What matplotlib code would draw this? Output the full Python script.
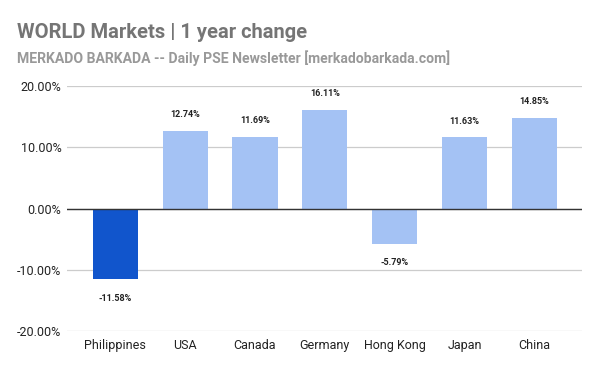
import numpy as np
import matplotlib.pyplot as plt
from matplotlib.ticker import FuncFormatter

plt.rcParams['font.family'] = ['Roboto', 'DejaVu Sans']

countries = ['Philippines', 'USA', 'Canada', 'Germany', 'Hong Kong', 'Japan', 'China']
change = [-11.58, 12.74, 11.69, 16.11, -5.79, 11.63, 14.85]
colors = ['#1155cc', '#a4c2f4', '#a4c2f4', '#a4c2f4', '#a4c2f4', '#a4c2f4', '#a4c2f4']

fig = plt.figure(figsize=(6, 3.71), dpi=100)
ax = fig.add_axes([0.1117, 0.108, 0.8583, 0.66])

x = np.arange(len(countries))
ax.bar(x, change, width=0.645, color=colors, zorder=3)

for xi, v in zip(x, change):
    off = 11.5 if v >= 0 else -13.5
    ax.annotate('%.2f%%' % v, (xi, v), xytext=(0, off), textcoords='offset points',
                ha='center', va='center', fontsize=6.5, fontweight='bold', color='#222222')

ax.set_ylim(-20, 20)
ax.set_xlim(-0.69, 6.68)
ax.set_yticks([-20, -10, 0, 10, 20])
ax.yaxis.set_major_formatter(FuncFormatter(lambda v, p: '%.2f%%' % v))
ax.set_xticks(x)
ax.set_xticklabels(countries)
ax.grid(axis='y', color='#cccccc', linewidth=0.9, zorder=0)
ax.axhline(0, color='#333333', linewidth=1.0, zorder=4)
for s in ax.spines.values():
    s.set_visible(False)
ax.tick_params(axis='both', length=0, labelsize=9, colors='#222222')
ax.tick_params(axis='y', pad=4)
ax.tick_params(axis='x', pad=6)

fig.text(17 / 600, 1 - 38 / 371, 'WORLD Markets | 1 year change', fontsize=14.5,
         fontweight='bold', color='#757575', va='baseline')
fig.text(17 / 600, 1 - 63 / 371, 'MERKADO BARKADA -- Daily PSE Newsletter [merkadobarkada.com]',
         fontsize=10.1, fontweight='bold', color='#999999', va='baseline')

fig.savefig('out.png', dpi=100)
